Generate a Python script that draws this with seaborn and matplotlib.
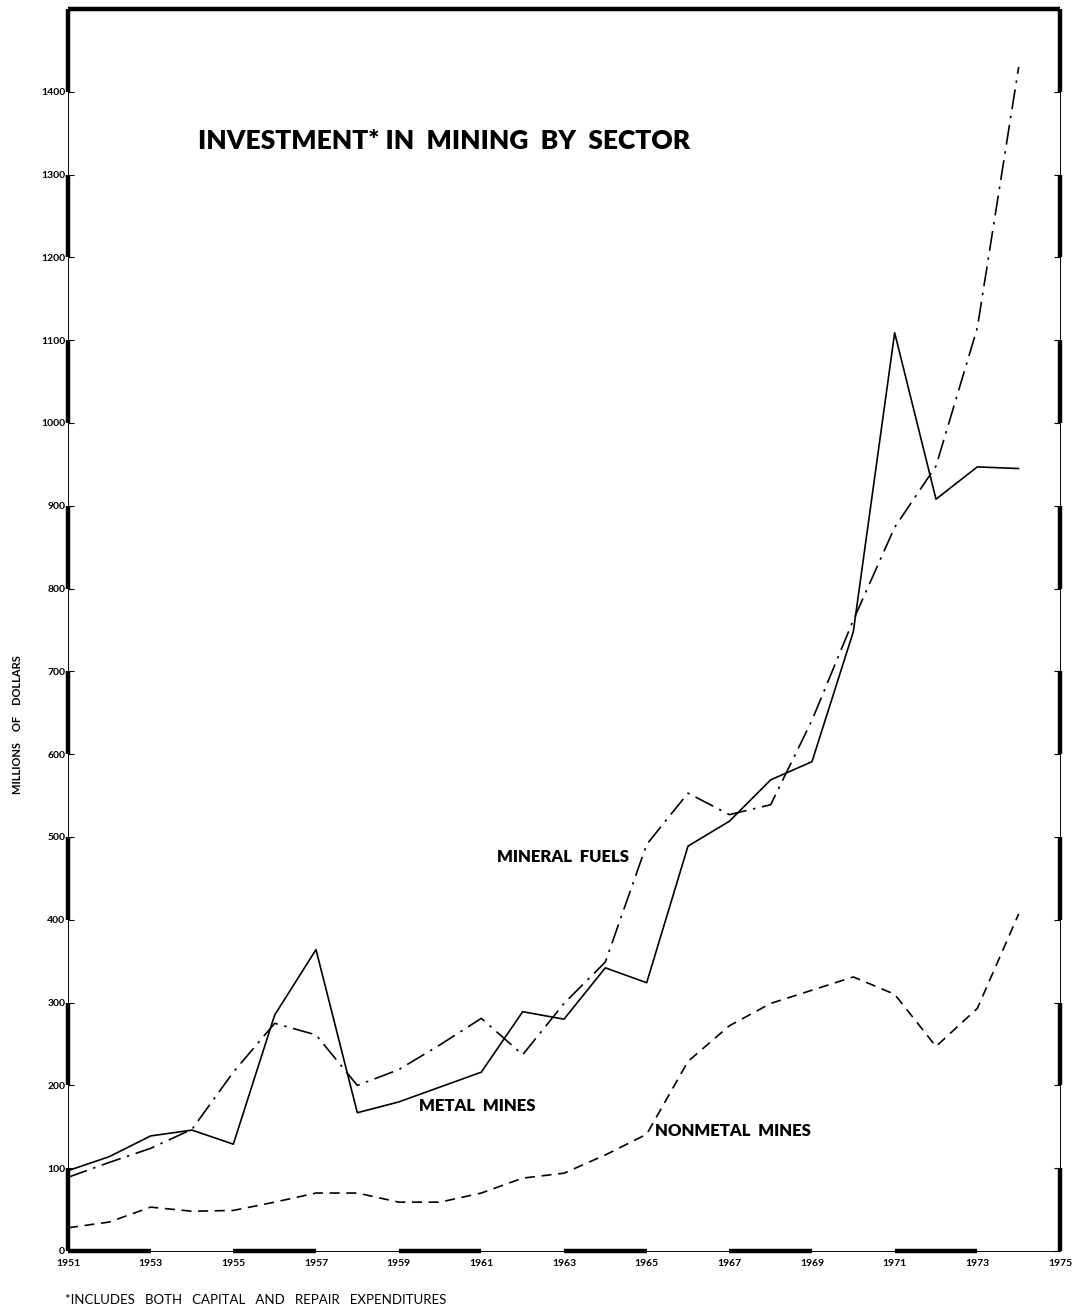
import matplotlib
matplotlib.use("Agg")
import matplotlib.pyplot as plt
import numpy as np
import pandas as pd
import seaborn as sns

# data (millions of dollars)
years = list(range(1951, 1975))
metal_mines = [97, 114, 139, 146, 129, 285, 364, 167, 180, 198, 216, 289,
               280, 342, 324, 489, 519, 569, 591, 748, 1109, 908, 947, 945]
mineral_fuels = [89, 107, 124, 147, 216, 275, 261, 200, 219, 249, 281, 237,
                 299, 349, 491, 553, 527, 539, 641, 762, 874, 948, 1115, 1430]
nonmetal_mines = [28, 35, 53, 48, 49, 59, 70, 70, 59, 59, 70, 88,
                  94, 116, 141, 229, 272, 299, 315, 331, 310, 247, 293, 407]

sectors = ["METAL MINES", "MINERAL FUELS", "NONMETAL MINES"]
y_ticks = list(range(0, 1500, 100))
x_ticks = list(range(1951, 1976, 2))

df = pd.DataFrame({
    "year": years * 3,
    "value": metal_mines + mineral_fuels + nonmetal_mines,
    "sector": [s for s in sectors for _ in years],
})

sns.set_style("white")
plt.rcParams["font.family"] = ["Lato", "DejaVu Sans"]
plt.rcParams["text.color"] = "black"
plt.rcParams["xtick.color"] = "black"
plt.rcParams["ytick.color"] = "black"

fig = plt.figure(figsize=(10.81, 13.10), dpi=100)
ax = fig.add_axes([68 / 1081, 59 / 1310, 992 / 1081, 1242 / 1310])

sns.lineplot(data=df, x="year", y="value", style="sector", color="black",
             dashes={"METAL MINES": "", "MINERAL FUELS": (12, 4, 1.5, 4),
                     "NONMETAL MINES": (6, 4)},
             linewidth=1.2, legend=False, ax=ax)

ax.set_xlim(1951, 1975)
ax.set_ylim(0, 1500)
ax.set_xlabel("")
ax.set_ylabel("")
for s in ax.spines.values():
    s.set_visible(False)

# frame: alternating thick / thin segments like the printed chart
xmin, xmax = 1951, 1975
ymin, ymax = 0, 1500
kw = dict(color="black", clip_on=False, solid_capstyle="butt", zorder=5)
ax.plot([xmin, xmax], [ymax, ymax], lw=3.2, **kw)
for xpos in (xmin, xmax):
    ax.plot([xpos, xpos], [ymin, ymax], lw=0.7, **kw)
    for y0 in y_ticks[::2]:
        ax.plot([xpos, xpos], [y0, min(y0 + 100, ymax)], lw=3.2, **kw)
ax.plot([xmin, xmax], [ymin, ymin], lw=0.7, **kw)
for x0 in x_ticks[:-1:2]:
    ax.plot([x0, x0 + 2], [ymin, ymin], lw=3.2, **kw)

ax.set_yticks(y_ticks)
ax.set_yticklabels([str(v) for v in y_ticks])
ax.set_xticks(x_ticks)
ax.set_xticklabels([str(v) for v in x_ticks])
ax.tick_params(axis="y", direction="in", length=4, width=0.8, pad=2,
               labelsize=7.5, right=True, left=True)
ax.tick_params(axis="x", direction="in", length=0, pad=6, labelsize=7.5)
for lab in ax.get_xticklabels() + ax.get_yticklabels():
    lab.set_fontweight("bold")

ax.text(1954.15, 1340, "INVESTMENT* IN  MINING  BY  SECTOR", ha="left",
        va="center", fontsize=19, fontweight="heavy")
ax.text(1961.37, 476, "MINERAL  FUELS", ha="left", va="center",
        fontsize=12, fontweight="heavy")
ax.text(1959.5, 175, "METAL  MINES", ha="left", va="center",
        fontsize=12, fontweight="heavy")
ax.text(1965.2, 145, "NONMETAL  MINES", ha="left", va="center",
        fontsize=12, fontweight="heavy")

fig.text(18 / 1081, 1 - 725 / 1310, "MILLIONS    OF    DOLLARS", rotation=90,
         ha="center", va="center", fontsize=8, fontweight="bold")
fig.text(65 / 1081, 1 - 1300 / 1310,
         "*INCLUDES   BOTH   CAPITAL   AND   REPAIR   EXPENDITURES",
         ha="left", va="center", fontsize=9.5)

fig.savefig("out.png", dpi=100, facecolor="white")
